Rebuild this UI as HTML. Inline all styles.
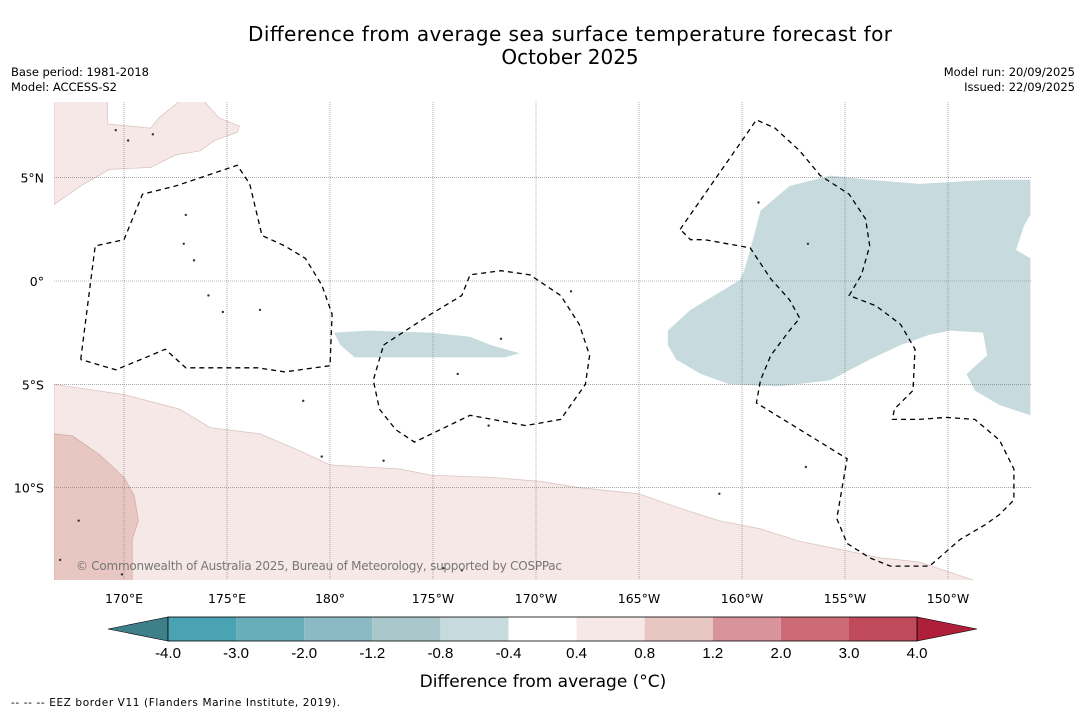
<!DOCTYPE html>
<html><head><meta charset="utf-8"><style>
body{margin:0;background:#fff;font-family:"DejaVu Sans","Liberation Sans",sans-serif}
svg{display:block}
</style></head><body>
<svg id="c" width="1085" height="713" xmlns="http://www.w3.org/2000/svg">
<text x="570" y="41" font-size="20" text-anchor="middle" textLength="644">Difference from average sea surface temperature forecast for</text>
<text x="570" y="64" font-size="20" text-anchor="middle">October 2025</text>
<text x="11" y="76" font-size="11.5" textLength="138">Base period: 1981-2018</text>
<text x="11" y="91" font-size="11.5" textLength="106">Model: ACCESS-S2</text>
<text x="1075" y="76" font-size="11.5" text-anchor="end">Model run: 20/09/2025</text>
<text x="1075" y="91" font-size="11.5" text-anchor="end">Issued: 22/09/2025</text>
<g id="map"></g>
<g id="cb"></g>
<text x="543" y="687" font-size="17" text-anchor="middle">Difference from average (°C)</text>
<text x="11" y="706" font-size="10.5" textLength="329">-- -- -- EEZ border V11 (Flanders Marine Institute, 2019).</text>
</svg>
<script>
const lonTicks=[170,175,180,185,190,195,200,205,210];
const lonLabels=["170°E","175°E","180°","175°W","170°W","165°W","160°W","155°W","150°W"];
const latTicks=[5,0,-5,-10];
const latLabels=["5°N","0°","5°S","10°S"];
const cbBounds=["-4.0","-3.0","-2.0","-1.2","-0.8","-0.4","0.4","0.8","1.2","2.0","3.0","4.0"];
const cbColors=["#4aa3b2","#69adba","#8bbac5","#aac8cc","#c7dbde","#ffffff","#f5e8e6","#e8c6c1","#d9939a","#cc6b76","#bf4a5a"];
const pinkLow=[[166.6,-5.0],[170,-5.5],[172.7,-6.2],[174.2,-7.1],[176.6,-7.4],[178.5,-8.2],[180,-8.9],[183.4,-9.1],[184.9,-9.4],[187.8,-9.5],[190.2,-9.7],[192.1,-10.0],[195.0,-10.3],[197.0,-11.0],[198.9,-11.6],[200.9,-12.0],[202.8,-12.6],[204.8,-13.0],[206.7,-13.4],[208.6,-13.6],[210.1,-14.1],[211.3,-14.5],[166.6,-14.5]];
const pinkMid=[[166.6,-7.4],[167.5,-7.5],[168.8,-8.4],[170,-9.5],[170.5,-10.4],[170.7,-11.6],[170.4,-12.5],[170.4,-14.5],[166.6,-14.5]];
const pinkTop=[[166.6,8.7],[169.2,8.7],[169.2,7.6],[171.3,7.4],[171.7,7.9],[172.7,8.7],[173.9,8.7],[174.6,7.9],[175.6,7.5],[175.5,7.2],[174.4,6.8],[173.7,6.3],[172.5,6.1],[171.3,5.5],[169.3,5.4],[167.9,4.6],[166.6,3.7]];
const blueRight=[[196.4,-2.4],[197.5,-1.4],[199.9,0.05],[200.1,0.5],[200.4,1.5],[200.9,3.4],[202.3,4.6],[204.3,5.1],[206.2,4.9],[208.6,4.7],[212.0,4.9],[214.0,4.9],[214.0,3.2],[213.7,2.7],[213.3,1.5],[214.0,1.1],[214.0,-6.5],[212.5,-6.0],[211.3,-5.3],[210.9,-4.5],[211.9,-3.6],[211.7,-2.5],[210.1,-2.4],[209.1,-2.6],[207.7,-3.1],[206.2,-3.8],[204.3,-4.8],[201.8,-5.1],[199.4,-5.0],[198.0,-4.5],[196.8,-3.8],[196.4,-3.1]];
const blueMid=[[180.2,-2.5],[181.9,-2.4],[184.9,-2.5],[186.8,-2.7],[187.8,-3.1],[189.2,-3.5],[188.5,-3.7],[185.8,-3.7],[182.4,-3.7],[181.2,-3.7],[180.5,-3.1]];
const eezA=[[167.9,-3.8],[168.6,1.7],[170.0,2.0],[170.9,4.2],[172.5,4.6],[175.5,5.6],[176.1,4.7],[176.7,2.2],[177.8,1.7],[178.8,1.1],[179.6,-0.2],[180.1,-1.6],[180.0,-4.1],[177.8,-4.4],[176.5,-4.2],[173.0,-4.2],[172.0,-3.3],[171.3,-3.6],[169.6,-4.3],[167.9,-3.8]];
const eezB=[[182.6,-3.1],[184.9,-1.6],[186.4,-0.7],[186.8,0.3],[188.3,0.5],[189.7,0.3],[191.2,-0.7],[192.1,-2.1],[192.6,-3.6],[192.4,-5.0],[191.2,-6.7],[189.5,-7.0],[186.8,-6.5],[184.1,-7.8],[183.2,-7.2],[182.4,-6.2],[182.1,-4.8],[182.6,-3.1]];
const eezC=[[197.0,2.5],[200.7,7.8],[201.6,7.4],[202.8,6.3],[203.8,5.1],[205.2,4.2],[206.0,3.0],[206.2,1.7],[205.8,0.3],[205.2,-0.7],[206.5,-1.2],[207.7,-2.1],[208.4,-3.3],[208.3,-5.3],[207.4,-6.2],[207.3,-6.7],[208.6,-6.7],[209.9,-6.6],[211.3,-6.7],[212.5,-7.7],[213.2,-9.1],[213.2,-10.6],[212.5,-11.3],[211.8,-11.8],[210.6,-12.5],[209.1,-13.8],[207.2,-13.8],[206.2,-13.4],[205.1,-12.7],[204.6,-11.5],[205.1,-8.6],[200.7,-5.9],[200.9,-4.8],[201.4,-3.6],[202.3,-2.4],[202.8,-1.8],[202.3,-0.9],[201.4,0.1],[200.4,1.6],[198.2,2.0],[197.5,2.0],[197.0,2.5]];
const islands=[[170.2,6.8],[171.4,7.1],[169.6,7.3],[173.0,3.2],[172.9,1.8],[173.4,1.0],[174.1,-0.7],[174.8,-1.5],[176.6,-1.4],[179.6,-8.5],[188.3,-2.8],[191.7,-0.5],[186.2,-4.5],[200.8,3.8],[203.2,1.8],[203.1,-9.0],[198.9,-10.3],[185.5,-13.9],[186.4,-14.0],[169.9,-14.2],[166.9,-13.5],[167.8,-11.6],[178.7,-5.8],[182.6,-8.7],[187.7,-7.0]];
const NS='http://www.w3.org/2000/svg';
const X0=54,X1=1031,Y0=102,Y1=580;
function xs(lon){return 124+(lon-170)*20.6;}
function ys(lat){return 281-lat*20.66;}
function pts(a){return a.map(p=>xs(p[0]).toFixed(1)+','+ys(p[1]).toFixed(1)).join(' ');}
function mk(t,attrs,parent){const e=document.createElementNS(NS,t);for(const k in attrs)e.setAttribute(k,attrs[k]);parent.appendChild(e);return e;}
const map=document.getElementById('map');
const cp=mk('clipPath',{id:'clip'},map);mk('rect',{x:X0,y:Y0,width:X1-X0,height:Y1-Y0},cp);
const g=mk('g',{'clip-path':'url(#clip)'},map);
let e;
e=mk('polygon',{points:pts(pinkTop),fill:'#f5e8e6',stroke:'#d8c0bd','stroke-width':0.7},g);


e=mk('polygon',{points:pts(pinkLow),fill:'#f5e8e6',stroke:'#d8c0bd','stroke-width':0.7},g);


e=mk('polygon',{points:pts(pinkMid),fill:'#e8c6c1',stroke:'#cfaaa5','stroke-width':0.7},g);


e=mk('polygon',{points:pts(blueRight),fill:'#c7dbde'},g);


e=mk('polygon',{points:pts(blueMid),fill:'#c7dbde'},g);


lonTicks.forEach((l,i)=>{
 e=mk('line',{x1:xs(l),x2:xs(l),y1:Y0,y2:Y1,stroke:'#777','stroke-width':0.6,'stroke-dasharray':'1,1'},g);
 
 
 e=mk('text',{x:xs(l),y:603,'font-size':12.5,'text-anchor':'middle'},map);e.textContent=lonLabels[i];
 
 
});
latTicks.forEach((l,i)=>{
 e=mk('line',{x1:X0,x2:X1,y1:ys(l),y2:ys(l),stroke:'#777','stroke-width':0.6,'stroke-dasharray':'1,1'},g);
 
 
 e=mk('text',{x:44,y:ys(l)+5,'font-size':12.5,'text-anchor':'end'},map);e.textContent=latLabels[i];
 
 
});
[eezA,eezB,eezC].forEach(a=>{
 e=mk('polyline',{points:pts(a),fill:'none',stroke:'#000','stroke-width':1.3,'stroke-dasharray':'5,4'},g);
 
 
});
islands.forEach(p=>{
 e=mk('circle',{cx:xs(p[0]),cy:ys(p[1]),r:1.2,fill:'#333'},g);
 
 
});
e=mk('text',{x:76,y:570,'font-size':12,fill:'#777',textLength:486},map);e.textContent='© Commonwealth of Australia 2025, Bureau of Meteorology, supported by COSPPac';


const cb=document.getElementById('cb');
const cx0=168,cw=68.1,cy=617,ch=24;
e=mk('polygon',{points:`${cx0},${cy} ${cx0},${cy+ch} 108,${cy+ch/2}`,fill:'#3e808a',stroke:'#000','stroke-width':0.6},cb);


cbColors.forEach((c,i)=>{
 e=mk('rect',{x:cx0+i*cw,y:cy,width:cw,height:ch,fill:c},cb);
 
 
});
const cx1=cx0+cbColors.length*cw;
e=mk('polygon',{points:`${cx1},${cy} ${cx1},${cy+ch} 977,${cy+ch/2}`,fill:'#b01f3a',stroke:'#000','stroke-width':0.6},cb);


mk('rect',{x:cx0,y:cy,width:cx1-cx0,height:ch,fill:'none',stroke:'#000','stroke-width':0.8},cb);
cbBounds.forEach((b,i)=>{
 e=mk('text',{x:cx0+i*cw,y:658,'font-size':15,'text-anchor':'middle','font-family':'Liberation Sans, sans-serif'},cb);e.textContent=b;
 
 
});
</script>
</body></html>
